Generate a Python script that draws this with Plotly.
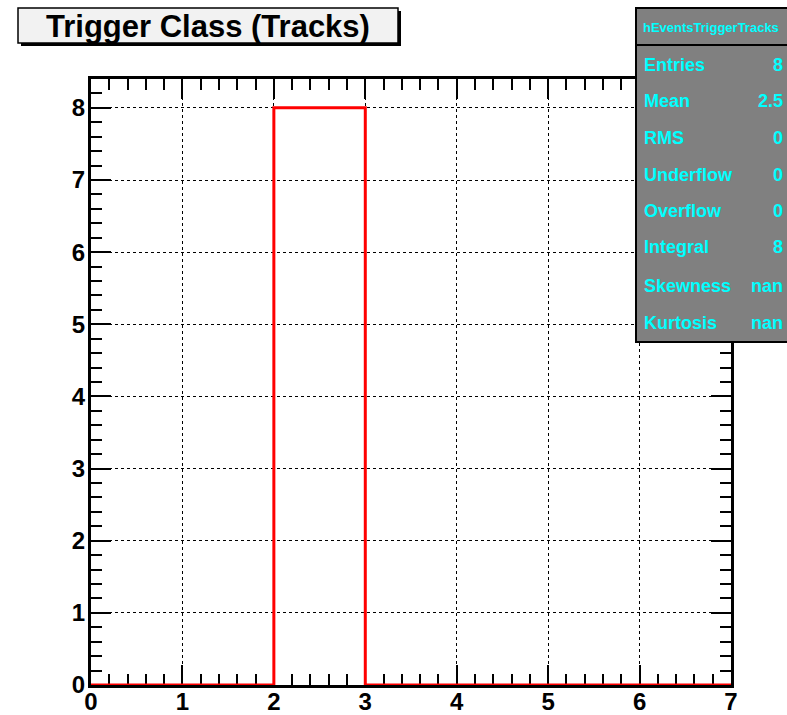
import plotly.graph_objects as go

# ---- data ----
bin_edges = [0, 1, 2, 3, 4, 5, 6, 7]
bin_counts = [0, 0, 8, 0, 0, 0, 0]
x_ticks = [0, 1, 2, 3, 4, 5, 6, 7]
y_ticks = [0, 1, 2, 3, 4, 5, 6, 7, 8]
title_text = "Trigger Class (Tracks)"
stats_title = "hEventsTriggerTracks"
stat_names = ["Entries", "Mean", "RMS", "Underflow", "Overflow", "Integral", "Skewness", "Kurtosis"]
stat_values = ["8", "2.5", "0", "0", "0", "8", "nan", "nan"]

W, H = 787, 715
L, R, T, B = 91, 731, 79, 685  # plot area in pixels
FONT = "Liberation Sans, Arial, Helvetica, sans-serif"


def px(x):
    return (x - L) / (R - L)


def py(y):
    return (B - y) / (B - T)


step_y = bin_counts + [bin_counts[-1]]

fig = go.Figure()
fig.add_trace(go.Scatter(
    x=bin_edges, y=step_y, mode="lines", line_shape="hv",
    line=dict(color="#ff0000", width=3), cliponaxis=False,
    hoverinfo="skip", showlegend=False,
))

axis_common = dict(
    showline=True, linecolor="black", linewidth=3, mirror="allticks",
    ticks="inside", ticklen=20, tickwidth=2, tickcolor="black",
    showgrid=True, gridcolor="black", griddash="dot", gridwidth=1,
    zeroline=False, layer="below traces", automargin=False,
    tickfont=dict(family=FONT, size=24, color="black", weight="bold"),
)

fig.update_xaxes(range=[0, 7], tickvals=x_ticks, ticktext=[str(v) for v in x_ticks],
                 ticklabelstandoff=-7,
                 minor=dict(dtick=0.2, ticks="inside", ticklen=11, tickwidth=2, tickcolor="black", showgrid=False),
                 **axis_common)
fig.update_yaxes(range=[0, 8.4], tickvals=y_ticks, ticktext=[str(v) for v in y_ticks],
                 ticklabelstandoff=-2,
                 minor=dict(dtick=0.2, ticks="inside", ticklen=11, tickwidth=2, tickcolor="black", showgrid=False),
                 **axis_common)

shapes = []
annotations = []

# title box with shadow
shapes.append(dict(type="rect", xref="paper", yref="paper", x0=px(21), x1=px(401), y0=py(11), y1=py(46),
                   fillcolor="black", line=dict(width=0), layer="above"))
shapes.append(dict(type="rect", xref="paper", yref="paper", x0=px(18), x1=px(398), y0=py(8), y1=py(43),
                   fillcolor="#f2f2f2", line=dict(color="black", width=1.5), layer="above"))
annotations.append(dict(xref="paper", yref="paper", x=px(208), y=py(26), text=title_text, showarrow=False,
                        xanchor="center", yanchor="middle",
                        font=dict(family=FONT, size=31, color="black", weight="bold")))

# stats box
shapes.append(dict(type="rect", xref="paper", yref="paper", x0=px(636), x1=px(900), y0=py(8), y1=py(342),
                   fillcolor="#808080", line=dict(color="black", width=2), layer="above"))
shapes.append(dict(type="line", xref="paper", yref="paper", x0=px(636), x1=px(900), y0=py(45), y1=py(45),
                   line=dict(color="black", width=2), layer="above"))
annotations.append(dict(xref="paper", yref="paper", x=px(711), y=py(27), text=stats_title, showarrow=False,
                        xanchor="center", yanchor="middle",
                        font=dict(family=FONT, size=13, color="#00ffff", weight="bold")))
row_y = [65, 101, 138, 175, 211, 247, 286, 323]
for name, val, yy in zip(stat_names, stat_values, row_y):
    annotations.append(dict(xref="paper", yref="paper", x=px(642), y=py(yy), text=name, showarrow=False,
                            xanchor="left", yanchor="middle",
                            font=dict(family=FONT, size=18, color="#00ffff", weight="bold")))
    annotations.append(dict(xref="paper", yref="paper", x=px(785), y=py(yy), text=val, showarrow=False,
                            xanchor="right", yanchor="middle",
                            font=dict(family=FONT, size=18, color="#00ffff", weight="bold")))

fig.update_layout(
    width=W, height=H,
    margin=dict(l=L, r=W - R, t=T, b=H - B, pad=0, autoexpand=False),
    paper_bgcolor="white", plot_bgcolor="white",
    shapes=shapes, annotations=annotations,
    showlegend=False,
)

fig.write_html("out.html", config={"displayModeBar": False},
               post_script="document.body.style.margin='0';document.body.style.overflow='hidden';")
